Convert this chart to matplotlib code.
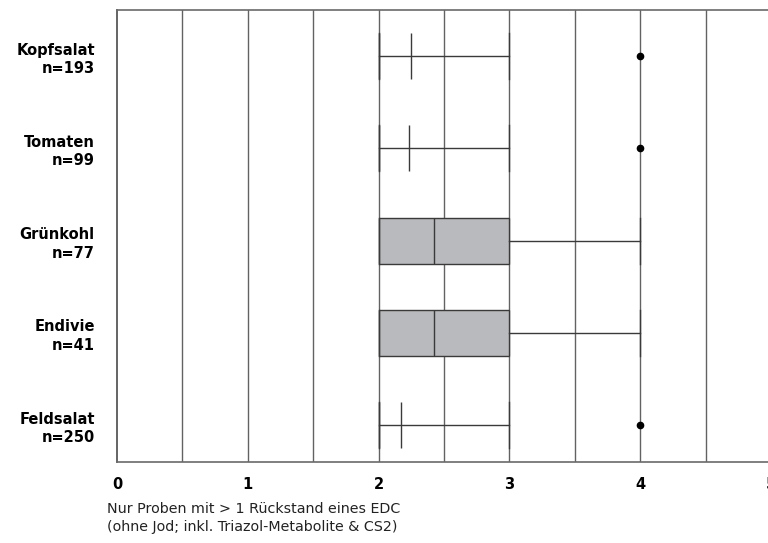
import matplotlib
matplotlib.use("Agg")
import matplotlib.pyplot as plt

# Data
categories = ["Kopfsalat", "Tomaten", "Grünkohl", "Endivie", "Feldsalat"]
counts = [193, 99, 77, 41, 250]
whislo = [2, 2, 2, 2, 2]
q1 = [2, 2, 2, 2, 2]
med = [2.25, 2.23, 2.42, 2.42, 2.17]
q3 = [2, 2, 3, 3, 2]
whishi = [3, 3, 4, 4, 3]
fliers = [[4], [4], [], [], [4]]

stats = []
for i in range(len(categories)):
    stats.append({
        "label": f"{categories[i]}\nn={counts[i]}",
        "whislo": whislo[i], "q1": q1[i], "med": med[i],
        "q3": q3[i], "whishi": whishi[i], "fliers": fliers[i],
    })

plt.rcParams['font.family'] = ['DejaVu Sans']

fig = plt.figure(figsize=(7.68, 5.43), dpi=100)
ax = fig.add_axes([117 / 768, 81 / 543, 654 / 768, 452 / 543])

ax.set_axisbelow(True)
for x in [0.5, 1, 1.5, 2, 2.5, 3, 3.5, 4, 4.5]:
    ax.axvline(x, color="#626262", lw=1.0, zorder=0)

positions = list(range(len(categories)))
ax.bxp(stats, positions=positions, vert=False, widths=0.5, patch_artist=True,
       showcaps=True,
       boxprops=dict(facecolor="#b9babd", edgecolor="#3a3a3a", lw=1.0),
       medianprops=dict(color="#3a3a3a", lw=1.0),
       whiskerprops=dict(color="#3a3a3a", lw=1.0),
       capprops=dict(color="#3a3a3a", lw=1.0),
       capwidths=0.5,
       flierprops=dict(marker="o", markerfacecolor="black", markeredgecolor="black",
                       markersize=4.5))

ax.set_xlim(0, 5)
ax.set_ylim(4.4, -0.5)
ax.set_xticks([0, 1, 2, 3, 4, 5])
ax.set_xticklabels(["0", "1", "2", "3", "4", "5"], fontweight="bold", fontsize=10.5)
ax.set_yticks(positions)
ax.set_yticklabels([s["label"] for s in stats], fontweight="bold", fontsize=10.5,
                   ha="right", linespacing=1.3)
ax.tick_params(axis="both", length=0)
ax.tick_params(axis="x", pad=11)
ax.tick_params(axis="y", pad=16)

for side in ["top", "bottom", "left"]:
    ax.spines[side].set_color("#6a6a6a")
    ax.spines[side].set_linewidth(1.2)
ax.spines["right"].set_visible(False)
ax.spines["left"].set_color("#4a4a4a")

fig.text(107 / 768, 1 - 502 / 543,
         "Nur Proben mit > 1 Rückstand eines EDC\n(ohne Jod; inkl. Triazol-Metabolite & CS2)",
         ha="left", va="top", fontsize=10.3, color="#222222", linespacing=1.35)

fig.savefig("out.png", dpi=100)
